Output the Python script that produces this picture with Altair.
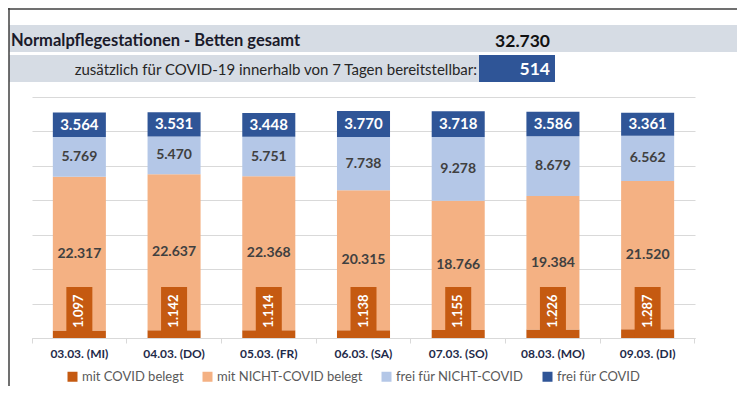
import altair as alt
import pandas as pd

# ---------------- data ----------------
dates = ["03.03. (MI)", "04.03. (DO)", "05.03. (FR)", "06.03. (SA)",
         "07.03. (SO)", "08.03. (MO)", "09.03. (DI)"]
mit_covid = [1097, 1142, 1114, 1138, 1155, 1226, 1287]
mit_nicht_covid = [22317, 22637, 22368, 20315, 18766, 19384, 21520]
frei_nicht_covid = [5769, 5470, 5751, 7738, 9278, 8679, 6562]
frei_covid = [3564, 3531, 3448, 3770, 3718, 3586, 3361]

series = ["mit COVID belegt", "mit NICHT-COVID belegt",
          "frei für NICHT-COVID", "frei für COVID"]
colors = ["#c55a11", "#f4b183", "#b4c7e7", "#2f5597"]

header_title = "Normalpflegestationen - Betten gesamt"
header_total = 32730
header_sub = "zusätzlich für COVID-19 innerhalb von 7 Tagen bereitstellbar:"
header_extra = 514

y_ticks = [0, 5000, 10000, 15000, 20000, 25000, 30000, 35000]


def de(n):
    return f"{n:,}".replace(",", ".")


rows = []
for i, d in enumerate(dates):
    base = 0
    for k, (s, vals) in enumerate(zip(series, [mit_covid, mit_nicht_covid,
                                               frei_nicht_covid, frei_covid])):
        v = vals[i]
        rows.append(dict(date=d, series=s, order=k, value=v, start=base,
                         end=base + v, mid=base + v / 2, label=de(v)))
        base += v
df = pd.DataFrame(rows)

W, H = 663, 241
FONT = "Lato"

x_enc = alt.X("date:N", sort=dates,
              scale=alt.Scale(paddingInner=0, paddingOuter=0),
              axis=alt.Axis(title=None, labelAngle=0, bandPosition=1, tickExtra=True,
                            tickSize=5, tickColor="#d9d9d9", domainColor="#d9d9d9",
                            labelFont=FONT, labelFontSize=12, labelFontWeight="bold",
                            labelColor="#1f2b4a", labelPadding=5, grid=False))
y_scale = alt.Scale(domain=[0, 35000], nice=False)
y_axis = alt.Axis(values=y_ticks, labels=False, ticks=False, domain=False, title=None,
                  grid=True, gridColor="#d9d9d9", gridWidth=1)

bars = alt.Chart(df).mark_bar(width={"band": 0.56}).encode(
    x=x_enc,
    y=alt.Y("start:Q", scale=y_scale, axis=y_axis),
    y2="end:Q",
    color=alt.Color("series:N", scale=alt.Scale(domain=series, range=colors),
                    legend=alt.Legend(orient="none", legendX=34, legendY=273,
                                      direction="horizontal", title=None,
                                      symbolType="square", symbolSize=100,
                                      symbolStrokeWidth=0, labelFont=FONT,
                                      labelFontSize=13, labelColor="#595959",
                                      columnPadding=17, labelOffset=3, padding=0)),
    order=alt.Order("order:Q"),
)

light_lbl = alt.Chart(df[df["order"].isin([1, 2])]).mark_text(
    font=FONT, fontSize=14, fontWeight="bold", color="#404040", baseline="middle"
).encode(x=x_enc, y=alt.Y("mid:Q", scale=y_scale, axis=y_axis), text="label:N")

dark_lbl = alt.Chart(df[df["order"] == 3]).mark_text(
    font=FONT, fontSize=15, fontWeight="bold", color="white", baseline="middle"
).encode(x=x_enc, y=alt.Y("mid:Q", scale=y_scale, axis=y_axis), text="label:N")

covid_df = df[df["order"] == 0]
covid_box = alt.Chart(covid_df).mark_rect(
    width=26, color="#c55a11", y2Offset=-51
).encode(x=x_enc, y=alt.datum(0, scale=y_scale, axis=y_axis), y2=alt.datum(0))

covid_lbl = alt.Chart(covid_df).mark_text(
    font=FONT, fontSize=13, fontWeight="bold", color="white", angle=270,
    baseline="middle", align="center", yOffset=-27
).encode(x=x_enc, y=alt.datum(0, scale=y_scale, axis=y_axis), text="label:N")

# ---------------- header (decoration) ----------------
one = pd.DataFrame({"t": [0]})
band1 = alt.Chart(one).mark_rect(color="#d6dce4").encode(
    x=alt.value(-23), x2=alt.value(713), y=alt.value(-72), y2=alt.value(-45))
band2 = alt.Chart(one).mark_rect(color="#d6dce4").encode(
    x=alt.value(-23), x2=alt.value(447), y=alt.value(-42), y2=alt.value(-15))
box2 = alt.Chart(one).mark_rect(color="#2f5597").encode(
    x=alt.value(447), x2=alt.value(523), y=alt.value(-42), y2=alt.value(-15))

hdr = pd.DataFrame({"title": [header_title], "total": [de(header_total)],
                    "sub": [header_sub], "extra": [de(header_extra)]})
t_title = alt.Chart(hdr).mark_text(font=FONT, fontSize=16.5, fontWeight="bold",
                                   color="#1a1a2a", align="left", baseline="alphabetic").encode(
    x=alt.value(-21), y=alt.value(-51), text="title:N")
t_total = alt.Chart(hdr).mark_text(font=FONT, fontSize=17.5, fontWeight="bold",
                                   color="#111111", align="right", baseline="alphabetic").encode(
    x=alt.value(518), y=alt.value(-50.5), text="total:N")
t_sub = alt.Chart(hdr).mark_text(font=FONT, fontSize=15, color="#262626",
                                 align="right", baseline="alphabetic").encode(
    x=alt.value(445), y=alt.value(-22), text="sub:N")
t_extra = alt.Chart(hdr).mark_text(font=FONT, fontSize=17.5, fontWeight="bold",
                                   color="white", align="right", baseline="alphabetic").encode(
    x=alt.value(518), y=alt.value(-22), text="extra:N")

top_line = alt.Chart(one).mark_rule(color="#404040", strokeWidth=1.5).encode(
    x=alt.value(-24), x2=alt.value(713), y=alt.value(-88))
left_line = alt.Chart(one).mark_rule(color="#404040", strokeWidth=1.5).encode(
    x=alt.value(-23), y=alt.value(-89), y2=alt.value(300))

chart = alt.layer(
    band1, band2, box2, t_title, t_total, t_sub, t_extra, top_line, left_line,
    bars, light_lbl, dark_lbl, covid_box, covid_lbl,
).properties(
    width=W, height=H,
    autosize=alt.AutoSizeParams(type="none"),
    padding={"left": 24, "top": 89, "right": 42, "bottom": 48},
).configure(font=FONT, view=alt.ViewConfig(stroke=None))

chart.save("out.html", embed_options={"renderer": "svg", "actions": False})
